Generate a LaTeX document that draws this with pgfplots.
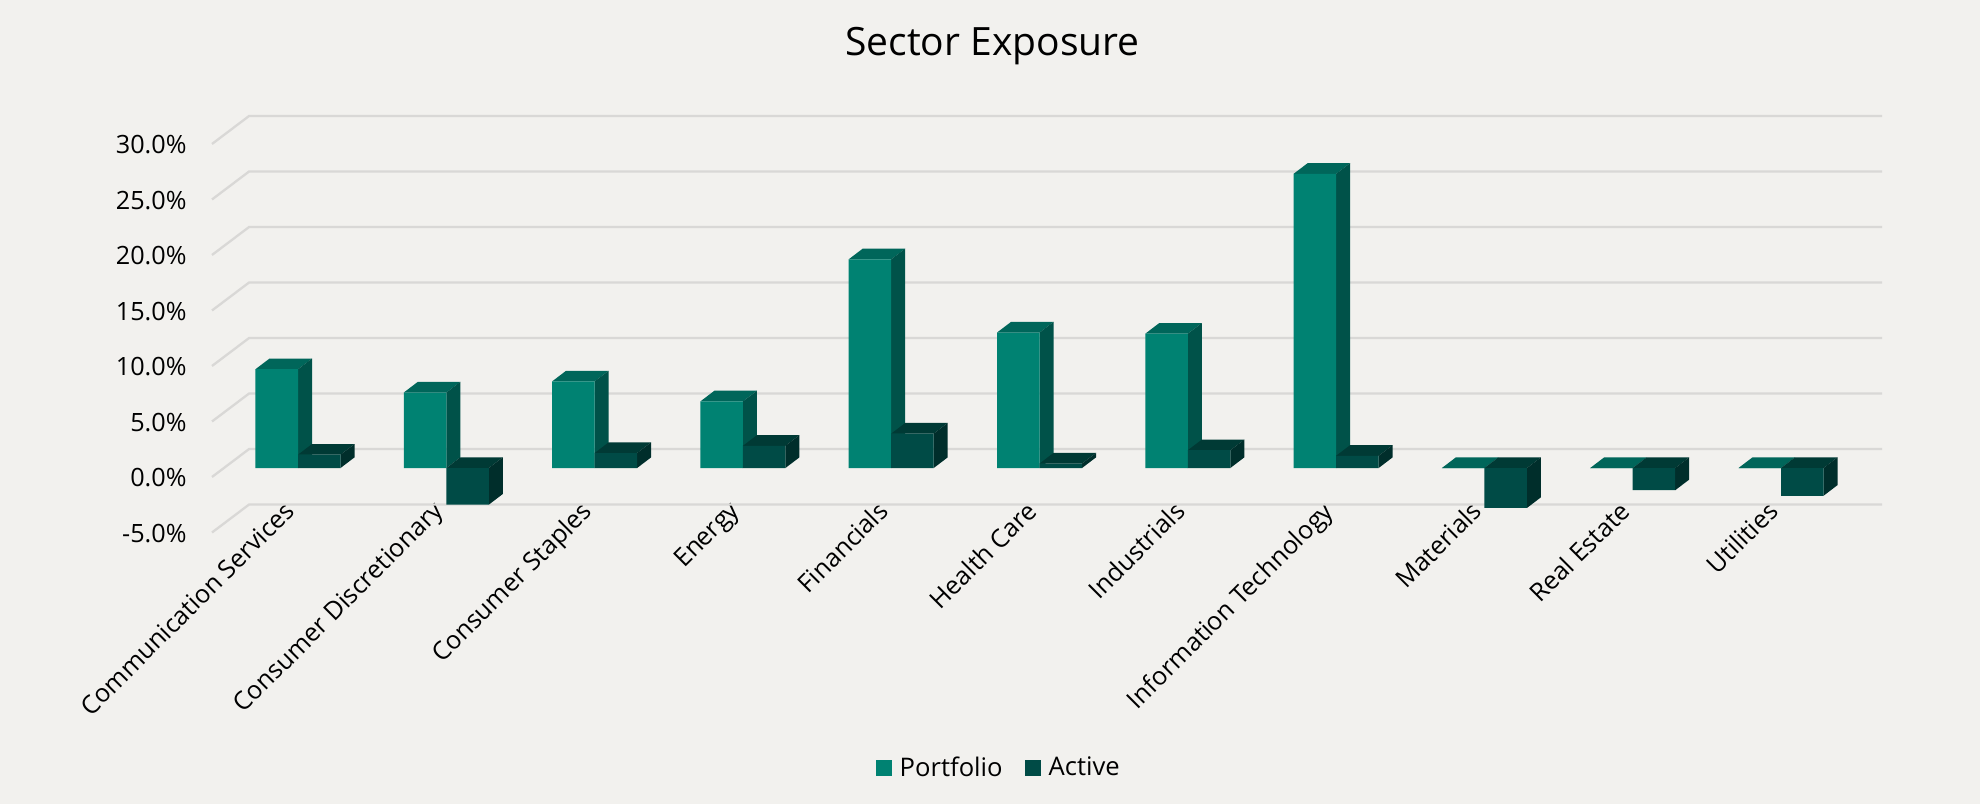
\documentclass[border=0pt]{standalone}
\usepackage{pgfplots}
\usepackage{pgfplotstable}
\pgfplotsset{compat=1.18}
\usepackage{fontspec}
\setmainfont{Open Sans}
\definecolor{bgc}{HTML}{F2F1EE}
\definecolor{gridc}{HTML}{D9D8D6}
\definecolor{pfront}{HTML}{008272}
\definecolor{ptop}{HTML}{00665A}
\definecolor{pside}{HTML}{005249}
\definecolor{afront}{HTML}{004B46}
\definecolor{atop}{HTML}{003A35}
\definecolor{aside}{HTML}{002E2B}
\pgfplotstableread{
idx Portfolio Active
0 8.9 1.2
1 6.8 -3.3
2 7.8 1.35
3 6.0 2.0
4 18.8 3.1
5 12.2 0.4
6 12.1 1.6
7 26.5 1.1
8 0 -3.6
9 0 -2.0
10 0 -2.5
}\datatable
\newcommand\gridrow[1]{%
  \pgfmathsetmacro\gf{#1-0.81}\pgfmathsetmacro\gb{#1+1.71}%
  \edef\tmp{\noexpand\addplot[gridc,line width=1.15pt,forget plot] coordinates {(-0.58,\gf) (-0.33,\gb) (10.681,\gb)};}\tmp
}
% top and side faces of one bar: #1 category, #2 column, #3 left offset, #4 top colour, #5 side colour
\newcommand\faces[5]{%
  \pgfplotstablegetelem{#1}{#2}\of\datatable
  \let\vv\pgfplotsretval
  \pgfmathsetmacro\xa{#1+#3}\pgfmathsetmacro\xb{#1+#3+0.2867}%
  \pgfmathsetmacro\xc{\xa+0.0944}\pgfmathsetmacro\xd{\xb+0.0944}%
  \pgfmathsetmacro\tv{max(\vv,0)}\pgfmathsetmacro\tw{\tv+0.96}%
  \pgfmathsetmacro\vw{\vv+0.96}%
  \edef\tmp{\noexpand\addplot[fill=#4,draw=none,forget plot] coordinates {(\xa,\tv) (\xb,\tv) (\xd,\tw) (\xc,\tw)} -- cycle;}\tmp
  \edef\tmp{\noexpand\addplot[fill=#5,draw=none,forget plot] coordinates {(\xb,0) (\xb,\vv) (\xd,\vw) (\xd,0.96)} -- cycle;}\tmp
}
\begin{document}
\begin{tikzpicture}
\fill[bgc] (0pt,0pt) rectangle (990pt,-402pt);
\node[anchor=center,font=\fontsize{19.5}{22}\selectfont] at (496.2pt,-23pt) {Sector Exposure};
\begin{axis}[
  at={(106pt,-266.3pt)},anchor=south west,
  scale only axis,width=835pt,height=208.25pt,
  xmin=-0.58,xmax=10.681,ymin=-5.82,ymax=31.7,
  clip=false,
  axis line style={draw=none},
  major tick length=0pt,
  xtick={0,...,10},
  xticklabels={Communication Services,Consumer Discretionary,Consumer Staples,Energy,Financials,Health Care,Industrials,Information Technology,Materials,Real Estate,Utilities},
  ytick={-5.81,-0.81,4.19,9.19,14.19,19.19,24.19,29.19},
  yticklabels={-5.0\%,0.0\%,5.0\%,10.0\%,15.0\%,20.0\%,25.0\%,30.0\%},
  tick label style={font=\fontsize{12.6}{14}\selectfont},
  yticklabel style={anchor=east,xshift=-9.2pt,yshift=-0.4pt},
  xticklabel style={rotate=45,anchor=north east,xshift=10pt,yshift=20.5pt},
  legend style={at={(0.4717,-0.565)},anchor=center,draw=none,fill=none,legend columns=2,font=\fontsize{12.8}{14}\selectfont,
    /tikz/every even column/.append style={column sep=9pt},
    /tikz/every odd column/.append style={column sep=2pt}},
  legend image code/.code={\fill[#1] (0pt,-4pt) rectangle (8pt,4pt);},
]
\pgfplotsforeachungrouped \g in {-5,0,5,10,15,20,25,30}{\gridrow{\g}}
\pgfplotsforeachungrouped \k in {0,...,10}{\faces{\k}{Portfolio}{-0.2867}{ptop}{pside}}
\addplot[ybar,bar width=0.2867,bar shift=-0.14335,fill=pfront,draw=none] table[x=idx,y=Portfolio] {\datatable};
\pgfplotsforeachungrouped \k in {0,...,10}{\faces{\k}{Active}{0}{atop}{aside}}
\addplot[ybar,bar width=0.2867,bar shift=0.14335,fill=afront,draw=none] table[x=idx,y=Active] {\datatable};
\legend{Portfolio,Active}
\end{axis}
\end{tikzpicture}
\end{document}
